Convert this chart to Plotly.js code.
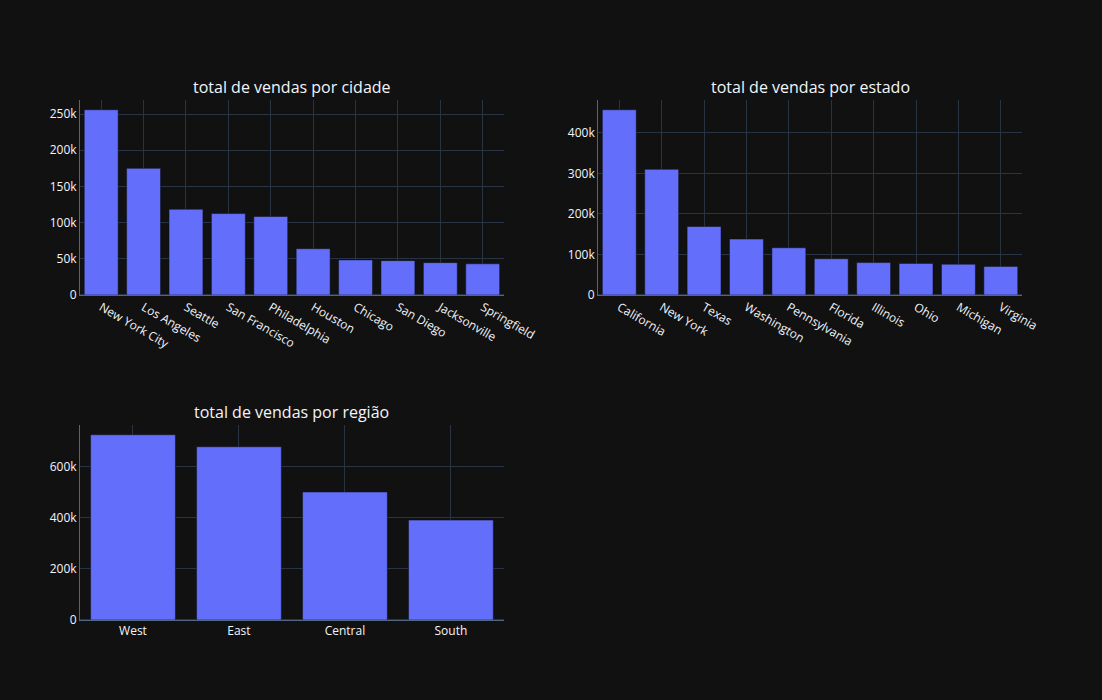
<!DOCTYPE html>
<html><head><meta charset="utf-8">
<script src="https://cdn.plot.ly/plotly-3.0.1.min.js"></script>
<style>body{margin:0;background:#111}</style>
</head><body>
<div id="chart" style="width:1102px;height:700px"></div>
<script>
var cidades = ['New York City','Los Angeles','Seattle','San Francisco','Philadelphia','Houston','Chicago','San Diego','Jacksonville','Springfield'];
var vendasCidade = [256000,175000,118500,112500,108500,64000,48500,47500,44700,43100];
var estados = ['California','New York','Texas','Washington','Pennsylvania','Florida','Illinois','Ohio','Michigan','Virginia'];
var vendasEstado = [457000,310000,169000,138000,116500,89500,80000,78000,76000,70600];
var regioes = ['West','East','Central','South'];
var vendasRegiao = [725000,678000,501000,391000];

var bar = {color:'#636efa', line:{color:'rgb(17,17,17)', width:0.5}};
var data = [
  {type:'bar', x:cidades, y:vendasCidade, marker:bar, xaxis:'x', yaxis:'y'},
  {type:'bar', x:estados, y:vendasEstado, marker:bar, xaxis:'x2', yaxis:'y2'},
  {type:'bar', x:regioes, y:vendasRegiao, marker:bar, xaxis:'x3', yaxis:'y3'}
];
var grid = '#283442';
function ax(dom, anchor, extra){
  var o = {domain:dom, anchor:anchor, gridcolor:grid, linecolor:'#506784', zerolinecolor:grid, zerolinewidth:2, ticks:''};
  for (var k in extra) o[k]=extra[k];
  return o;
}
var tf = {size:16, color:'#f2f5fa'};
var layout = {
  width:1102, height:700, showlegend:false,
  paper_bgcolor:'rgb(17,17,17)', plot_bgcolor:'rgb(17,17,17)',
  font:{color:'#f2f5fa', family:'"Open Sans", verdana, arial, sans-serif', size:12},
  margin:{l:80,r:80,t:100,b:80},
  xaxis: ax([0,0.45],'y',{tickangle:30}),
  yaxis: ax([0.625,1],'x',{}),
  xaxis2: ax([0.55,1],'y2',{tickangle:30}),
  yaxis2: ax([0.625,1],'x2',{}),
  xaxis3: ax([0,0.45],'y3',{}),
  yaxis3: ax([0,0.375],'x3',{}),
  annotations:[
    {text:'total de vendas por cidade', x:0.225, y:1, xref:'paper', yref:'paper', xanchor:'center', yanchor:'bottom', showarrow:false, font:tf},
    {text:'total de vendas por estado', x:0.775, y:1, xref:'paper', yref:'paper', xanchor:'center', yanchor:'bottom', showarrow:false, font:tf},
    {text:'total de vendas por região', x:0.225, y:0.375, xref:'paper', yref:'paper', xanchor:'center', yanchor:'bottom', showarrow:false, font:tf}
  ]
};
Plotly.newPlot('chart', data, layout, {displayModeBar:false});
</script>
</body></html>
